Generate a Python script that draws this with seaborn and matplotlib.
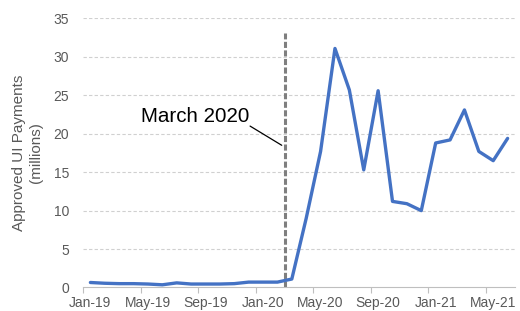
import pandas as pd
import matplotlib
matplotlib.use("Agg")
import matplotlib.pyplot as plt
import seaborn as sns

# monthly approved UI payments, Jan-19 .. Jun-21 (millions)
months = pd.date_range("2019-01-01", "2021-06-01", freq="MS").strftime("%b-%y").tolist()
payments = [0.65, 0.55, 0.5, 0.5, 0.45, 0.35, 0.6, 0.45, 0.45, 0.45, 0.5, 0.7,
            0.7, 0.7, 1.1, 9.0, 17.7, 31.1, 25.7, 15.3, 25.6, 11.2, 10.9, 10.0,
            18.8, 19.2, 23.1, 17.7, 16.5, 19.4]
tick_months = ["Jan-19", "May-19", "Sep-19", "Jan-20", "May-20", "Sep-20", "Jan-21", "May-21"]
event_label = "March 2020"

df = pd.DataFrame({"month": months, "payments": payments})
df["idx"] = range(len(df))

sns.set_style("white")
plt.rcParams["font.family"] = ["Liberation Sans", "DejaVu Sans"]

fig = plt.figure(figsize=(5.2, 3.11), dpi=100)
ax = fig.add_axes([0.16, 0.0756, 0.83, 0.865])

grey_txt = "#595959"
for v in range(5, 40, 5):
    ax.axhline(v, color="#d0d0d0", lw=0.8, ls=(0, (3, 2)), zorder=0)

sns.lineplot(data=df, x="idx", y="payments", color="#4472C4", lw=2.4, ax=ax, zorder=3)

# March 2020 marker (boundary between Feb and Mar)
ax.plot([13.5, 13.5], [0, 33.1], color="#7f7f7f", lw=2.2, ls=(0, (2, 0.8)), zorder=2)
ax.text(7.3, 22.2, event_label, ha="center", va="center", fontsize=14.8, color="black")
ax.plot([11.1, 13.3], [21.0, 18.5], color="black", lw=0.9)

ax.set_xlim(-0.5, len(df) - 0.5)
ax.set_ylim(0, 35)
ax.set_yticks(range(0, 40, 5))
ax.tick_params(axis="y", length=0, pad=10, labelsize=10, labelcolor=grey_txt)

ax.set_xticks([months.index(m) for m in tick_months])
ax.set_xticklabels(tick_months)
ax.set_xticks([i - 0.5 for i in range(0, len(df), 4)], minor=True)
ax.tick_params(axis="x", which="major", length=0, pad=6, labelsize=10, labelcolor=grey_txt)
ax.tick_params(axis="x", which="minor", length=4, width=0.8, color="#bfbfbf", direction="out", bottom=True)

for s in ["top", "right", "left"]:
    ax.spines[s].set_visible(False)
ax.spines["bottom"].set_color("#bfbfbf")
ax.spines["bottom"].set_linewidth(0.8)

ax.set_xlabel("")
ax.set_ylabel("Approved UI Payments\n(millions)", fontsize=11, color=grey_txt, labelpad=8, linespacing=1.2)

fig.savefig("out.png", dpi=100)
